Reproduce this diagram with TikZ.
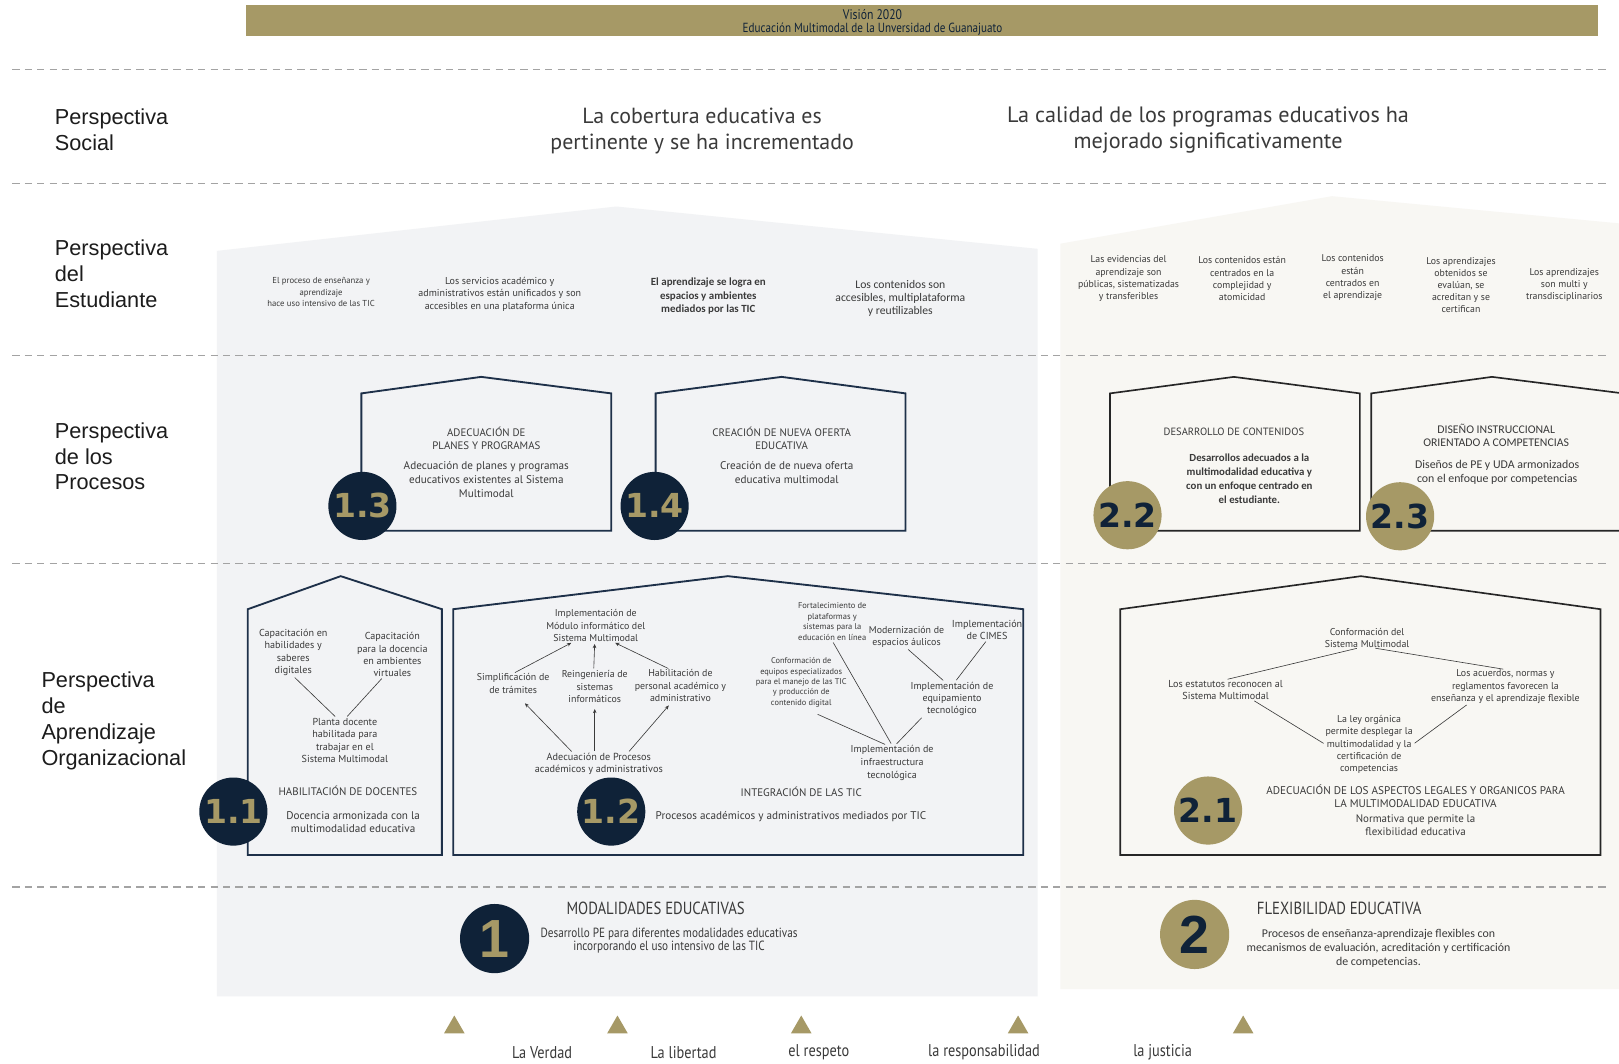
\documentclass[tikz,border=0pt]{standalone}
\usepackage{fontspec}
\setmainfont{PT Sans}
\newfontfamily\calib{Carlito}
\newfontfamily\condf[FakeStretch=0.84]{PT Sans}
\newfontfamily\arialf{Liberation Sans}
\newfontfamily\numf{DejaVu Sans}
\newfontfamily\bignumf{Liberation Sans}
\usetikzlibrary{arrows.meta,shapes.geometric}
\definecolor{navy}{HTML}{0F2238}
\definecolor{gold}{HTML}{A69966}
\definecolor{houseA}{HTML}{1E3049}
\definecolor{houseB}{HTML}{262626}
\definecolor{panelA}{HTML}{F2F3F5}
\definecolor{panelB}{HTML}{F8F7F3}
\definecolor{dashc}{HTML}{A3A3A3}
\definecolor{txtc}{HTML}{3A3A3A}
\definecolor{labc}{HTML}{1C1C1C}
\newcommand\fsz[2]{\fontsize{#1}{#2}\selectfont}
\begin{document}
\begin{tikzpicture}[x=1pt,y=-1pt,
  t/.style={align=center, inner sep=0pt, text=txtc},
  persp/.style={align=left, anchor=west, inner sep=0pt, font=\arialf\fsz{21}{25}, text=labc},
  dashl/.style={draw=dashc, line width=1.1pt, dash pattern=on 7pt off 5pt},
  hA/.style={draw=houseA, line width=1.8pt, line join=miter},
  hB/.style={draw=houseB, line width=1.6pt, line join=miter},
  ncirc/.style={circle, fill=navy, minimum size=66pt, inner sep=0pt, text=gold, font=\numf\bfseries\fsz{32}{32}},
  gcirc/.style={circle, fill=gold, minimum size=66pt, inner sep=0pt, text=navy, font=\numf\bfseries\fsz{32}{32}},
  bigc/.style={circle, minimum size=67pt, inner sep=0pt, font=\bignumf\bfseries\fsz{52}{52}},
  link/.style={draw=txtc, line width=0.6pt, shorten >=2pt, shorten <=2pt},
  arr/.style={link, -{Stealth[length=4pt,width=3.5pt]}},
  tri/.style={regular polygon, regular polygon sides=3, fill=gold, minimum size=23pt, inner sep=0pt},
  vlab/.style={inner sep=0pt, font=\condf\fsz{16.5}{18}, text=txtc}
]
\useasboundingbox (0,0) rectangle (1568,1030);
\fill[white] (0,0) rectangle (1568,1030);

% panels
\fill[panelA] (210,243) -- (597,200) -- (1005,241) -- (1005,965) -- (210,965) -- cycle;
\fill[panelB] (1027,236) -- (1290,190) -- (1575,217) -- (1575,958) -- (1027,958) -- cycle;

% banner
\node[fill=gold, minimum width=1310pt, minimum height=30pt, inner sep=0pt] (banner) at (893,20) {};
\node[t, font=\condf\fsz{13.5}{14}, text=navy] (vis) at (845,14) {Visión 2020};
\node[t, font=\condf\fsz{12.8}{14}, text=navy] (vis2) at (845,28) {Educación Multimodal de la Unversidad de Guanajuato};

% dashed separators
\foreach \yy in {67,178,344,546,859}{
  \draw[dashl] (12,\yy) -- (1555,\yy);
}

% perspective labels
\node[persp] (ps) at (53,125.5) {Perspectiva\\Social};
\node[persp] (pe) at (53,265) {Perspectiva\\del\\Estudiante};
\node[persp] (pp) at (53,442) {Perspectiva\\de los\\Procesos};
\node[persp] (pa) at (40,698) {Perspectiva\\de\\Aprendizaje\\Organizacional};

% social
\node[t, font=\fsz{21.2}{25}] (soc1) at (680,127) {La cobertura educativa es\\pertinente y se ha incrementado};
\node[t, font=\fsz{21.5}{25}] (soc2) at (1170,126) {La calidad de los programas educativos ha\\mejorado significativamente};

% student
\node[t, font=\fsz{8.4}{11}] (s1) at (311,283) {El proceso de enseñanza y\\aprendizaje\\hace uso intensivo de las TIC};
\node[t, font=\fsz{9.7}{12}] (s2) at (484,285) {Los servicios académico y\\administrativos están unificados y son\\accesibles en una plataforma única};
\node[t, font=\calib\bfseries\fsz{10.6}{13}] (s3) at (686,287) {El aprendizaje se logra en\\espacios y ambientes\\mediados por las TIC};
\node[t, font=\calib\fsz{11.3}{13}] (s4) at (872,289) {Los contenidos son\\accesibles, multiplataforma\\y reutilizables};
\node[t, font=\fsz{9.5}{11.8}] (r1) at (1093,270) {Las evidencias del\\aprendizaje son\\públicas, sistematizadas\\y transferibles};
\node[t, font=\fsz{9.5}{11.8}] (r2) at (1203,270) {Los contenidos están\\centrados en la\\complejidad y\\atomicidad};
\node[t, font=\fsz{9.5}{11.8}] (r3) at (1310,269) {Los contenidos\\están\\centrados en\\el aprendizaje};
\node[t, font=\fsz{9.5}{11.8}] (r4) at (1415,276) {Los aprendizajes\\obtenidos se\\evalúan, se\\acreditan y se\\certifican};
\node[t, font=\fsz{9.5}{11.8}] (r5) at (1515,276) {Los aprendizajes\\son multi y\\transdisciplinarios};

% process houses
\draw[hA] (350,514) -- (350,381) -- (466,365) -- (592,381) -- (592,514) -- cycle;
\node[t, font=\fsz{10.5}{13}] (p13t) at (471,424.5) {ADECUACIÓN DE\\PLANES Y PROGRAMAS};
\node[t, font=\fsz{10.8}{13.5}] (p13d) at (471,464.5) {Adecuación de planes y programas\\educativos existentes al Sistema\\Multimodal};
\node[ncirc] (c13) at (351,490) {1.3};

\draw[hA] (635,514) -- (635,381) -- (757,365) -- (877,381) -- (877,514) -- cycle;
\node[t, font=\fsz{10.5}{13}] (p14t) at (757,424.5) {CREACIÓN DE NUEVA OFERTA\\EDUCATIVA};
\node[t, font=\fsz{10.8}{13.5}] (p14d) at (762,457.5) {Creación de de nueva oferta\\educativa multimodal};
\node[ncirc] (c14) at (634,490) {1.4};

\draw[hB] (1075,514) -- (1075,381) -- (1195,365) -- (1317,381) -- (1317,514) -- cycle;
\node[t, font=\fsz{10.2}{13}] (p22t) at (1195,418) {DESARROLLO DE CONTENIDOS};
\node[t, font=\calib\bfseries\fsz{10.5}{13.6}] (p22d) at (1210,463.5) {Desarrollos adecuados a la\\multimodalidad educativa y\\con un enfoque centrado en\\el estudiante.};
\node[gcirc] (c22) at (1092,499) {2.2};

\draw[hB] (1580,514) -- (1328,514) -- (1328,381) -- (1445,365) -- (1580,382);
\node[t, font=\calib\fsz{11.4}{13}] (p23t) at (1449,421.5) {DISEÑO INSTRUCCIONAL\\ORIENTADO A COMPETENCIAS};
\node[t, font=\calib\fsz{11.5}{13}] (p23d) at (1450,457.5) {Diseños de PE y UDA armonizados\\con el enfoque por competencias};
\node[gcirc] (c23) at (1356,500) {2.3};

% learning house 1.1
\draw[hA] (240,828) -- (240,590) -- (330,558) -- (428,590) -- (428,828) -- cycle;
\node[t, font=\fsz{9.8}{12}] (cap1) at (284,632) {Capacitación en\\habilidades y\\saberes\\digitales};
\node[t, font=\fsz{9.8}{12}] (cap2) at (380,634) {Capacitación\\para la docencia\\en ambientes\\virtuales};
\node[t, font=\fsz{9.8}{12}] (planta) at (334,717) {Planta docente\\habilitada para\\trabajar en el\\Sistema Multimodal};
\node[t, font=\fsz{10.6}{12}] (hab11) at (337,766) {HABILITACIÓN DE DOCENTES};
\node[t, font=\fsz{10.8}{13}] (doc11) at (342,796) {Docencia armonizada con la\\multimodalidad educativa};
\draw[link] (cap1.south) -- ([xshift=-8pt]planta.north);
\draw[link] ([xshift=-9pt]cap2.south) -- ([xshift=1pt]planta.north);
\node[ncirc] (c11) at (226,786) {1.1};

% learning house 1.2
\draw[hA] (439,828) -- (439,590) -- (705,558) -- (991,590) -- (991,828) -- cycle;
\node[t, font=\fsz{9.6}{12}] (mod) at (577,606) {Implementación de\\Módulo informático del\\Sistema Multimodal};
\node[t, font=\fsz{9.6}{12}] (simp) at (497,662) {Simplificación de\\de trámites};
\node[t, font=\fsz{9.6}{12}] (reing) at (576,665) {Reingeniería de\\sistemas\\informáticos};
\node[t, font=\fsz{9.6}{12}] (habil) at (659,664) {Habilitación de\\personal académico y\\administrativo};
\node[t, font=\fsz{9.9}{12}] (adec) at (580,740) {Adecuación de Procesos\\académicos y administrativos};
\draw[arr] (simp.north) -- ([xshift=-22pt]mod.south);
\draw[arr] ([xshift=-1pt]reing.north) -- ([xshift=-1pt]mod.south);
\draw[arr] ([xshift=-10pt]habil.north) -- ([xshift=17pt]mod.south);
\draw[arr] ([xshift=-25pt]adec.north) -- ([xshift=10pt,yshift=-8pt]simp.south);
\draw[arr] ([xshift=-4pt]adec.north) -- ([yshift=-4pt]reing.south);
\draw[arr] ([xshift=28pt]adec.north) -- ([xshift=-10pt,yshift=-2pt]habil.south);

\node[t, font=\fsz{8.2}{10.3}] (fort) at (806,602) {Fortalecimiento de\\plataformas y\\sistemas para la\\educación en línea};
\node[t, font=\fsz{8.1}{10}] (conf) at (776,661) {Conformación de\\equipos especializados\\para el manejo de las TIC\\y producción de\\contenido digital};
\node[t, font=\fsz{9.6}{12}] (modern) at (878,617) {Modernización de\\espacios áulicos};
\node[t, font=\fsz{9.8}{12}] (cimes) at (956,610) {Implementación\\de CIMES};
\node[t, font=\fsz{9.7}{12}] (equip) at (922,677) {Implementación de\\equipamiento\\tecnológico};
\node[t, font=\fsz{9.7}{12.5}] (infra) at (864,739) {Implementación de\\infraestructura\\tecnológica};
\draw[link] (fort.south) -- (infra.north);
\draw[link] ([xshift=14pt,yshift=-6pt]conf.south) -- ([xshift=-5pt]infra.north);
\draw[link] ([xshift=3pt]infra.north) -- ([xshift=-28pt]equip.south);
\draw[link] (modern.south) -- ([xshift=-7pt]equip.north);
\draw[link] (cimes.south) -- ([xshift=3pt]equip.north);
\node[t, font=\fsz{10.6}{12}] (int12) at (776,767) {INTEGRACIÓN DE LAS TIC};
\node[t, font=\fsz{10.8}{12}] (proc12) at (766,791) {Procesos académicos y administrativos mediados por TIC};
\node[ncirc] (c12) at (592,786) {1.2};

% learning house 2.1
\draw[hB] (1085,828) -- (1085,590) -- (1318,558) -- (1550,590) -- (1550,828) -- cycle;
\node[t, font=\fsz{9.6}{11.5}] (conf2) at (1324,618) {Conformación del\\Sistema Multimodal};
\node[t, font=\fsz{9.8}{12}] (estat) at (1187,668) {Los estatutos reconocen al\\Sistema Multimodal};
\node[t, font=\fsz{9.6}{12}] (acuer) at (1458,665) {Los acuerdos, normas y\\reglamentos favorecen la\\enseñanza y el aprendizaje flexible};
\node[t, font=\fsz{9.6}{11.8}] (ley) at (1326,721) {La ley orgánica\\permite desplegar la\\multimodalidad y la\\certificación de\\competencias};
\draw[link] ([xshift=-8pt]conf2.south) -- (estat.north);
\draw[link] ([xshift=6pt]conf2.south) -- (acuer.north);
\draw[link] ([xshift=26pt]estat.south) -- (ley.west);
\draw[link] ([xshift=-36pt]acuer.south) -- (ley.east);
\node[t, font=\fsz{10.8}{12.5}] (leg21) at (1371,771.5) {ADECUACIÓN DE LOS ASPECTOS LEGALES Y ORGANICOS PARA\\LA MULTIMODALIDAD EDUCATIVA};
\node[t, font=\fsz{10.6}{13}] (norm21) at (1371,799) {Normativa que permite la\\flexibilidad educativa};
\node[gcirc] (c21) at (1170,785) {2.1};

% bottom
\node[bigc, fill=navy, text=gold] (b1) at (479,909) {1};
\node[t, font=\condf\fsz{17}{18}] (m1t) at (635,880) {MODALIDADES EDUCATIVAS};
\node[t, font=\condf\fsz{12.9}{13.5}] (m1d) at (648,911) {Desarrollo PE para diferentes modalidades educativas\\incorporando el uso intensivo de las TIC};
\node[bigc, fill=gold, text=navy] (b2) at (1157,905) {2};
\node[t, font=\condf\fsz{17}{18}] (m2t) at (1297,880) {FLEXIBILIDAD EDUCATIVA};
\node[t, font=\calib\fsz{11.5}{13.5}] (m2d) at (1335,918.5) {Procesos de enseñanza-aprendizaje flexibles con\\mecanismos de evaluación, acreditación y certificación\\de competencias.};

% values
\node[tri] (v1) at (440,995) {};
\node[tri] (v2) at (598,995) {};
\node[tri] (v3) at (776,995) {};
\node[tri] (v4) at (986,995) {};
\node[tri] (v5) at (1204,995) {};
\node[vlab] (l1) at (525,1019) {La Verdad};
\node[vlab] (l2) at (662,1019) {La libertad};
\node[vlab] (l3) at (793,1019) {el respeto};
\node[vlab] (l4) at (953,1019) {la responsabilidad};
\node[vlab] (l5) at (1126,1019) {la justicia};
\end{tikzpicture}
\end{document}
